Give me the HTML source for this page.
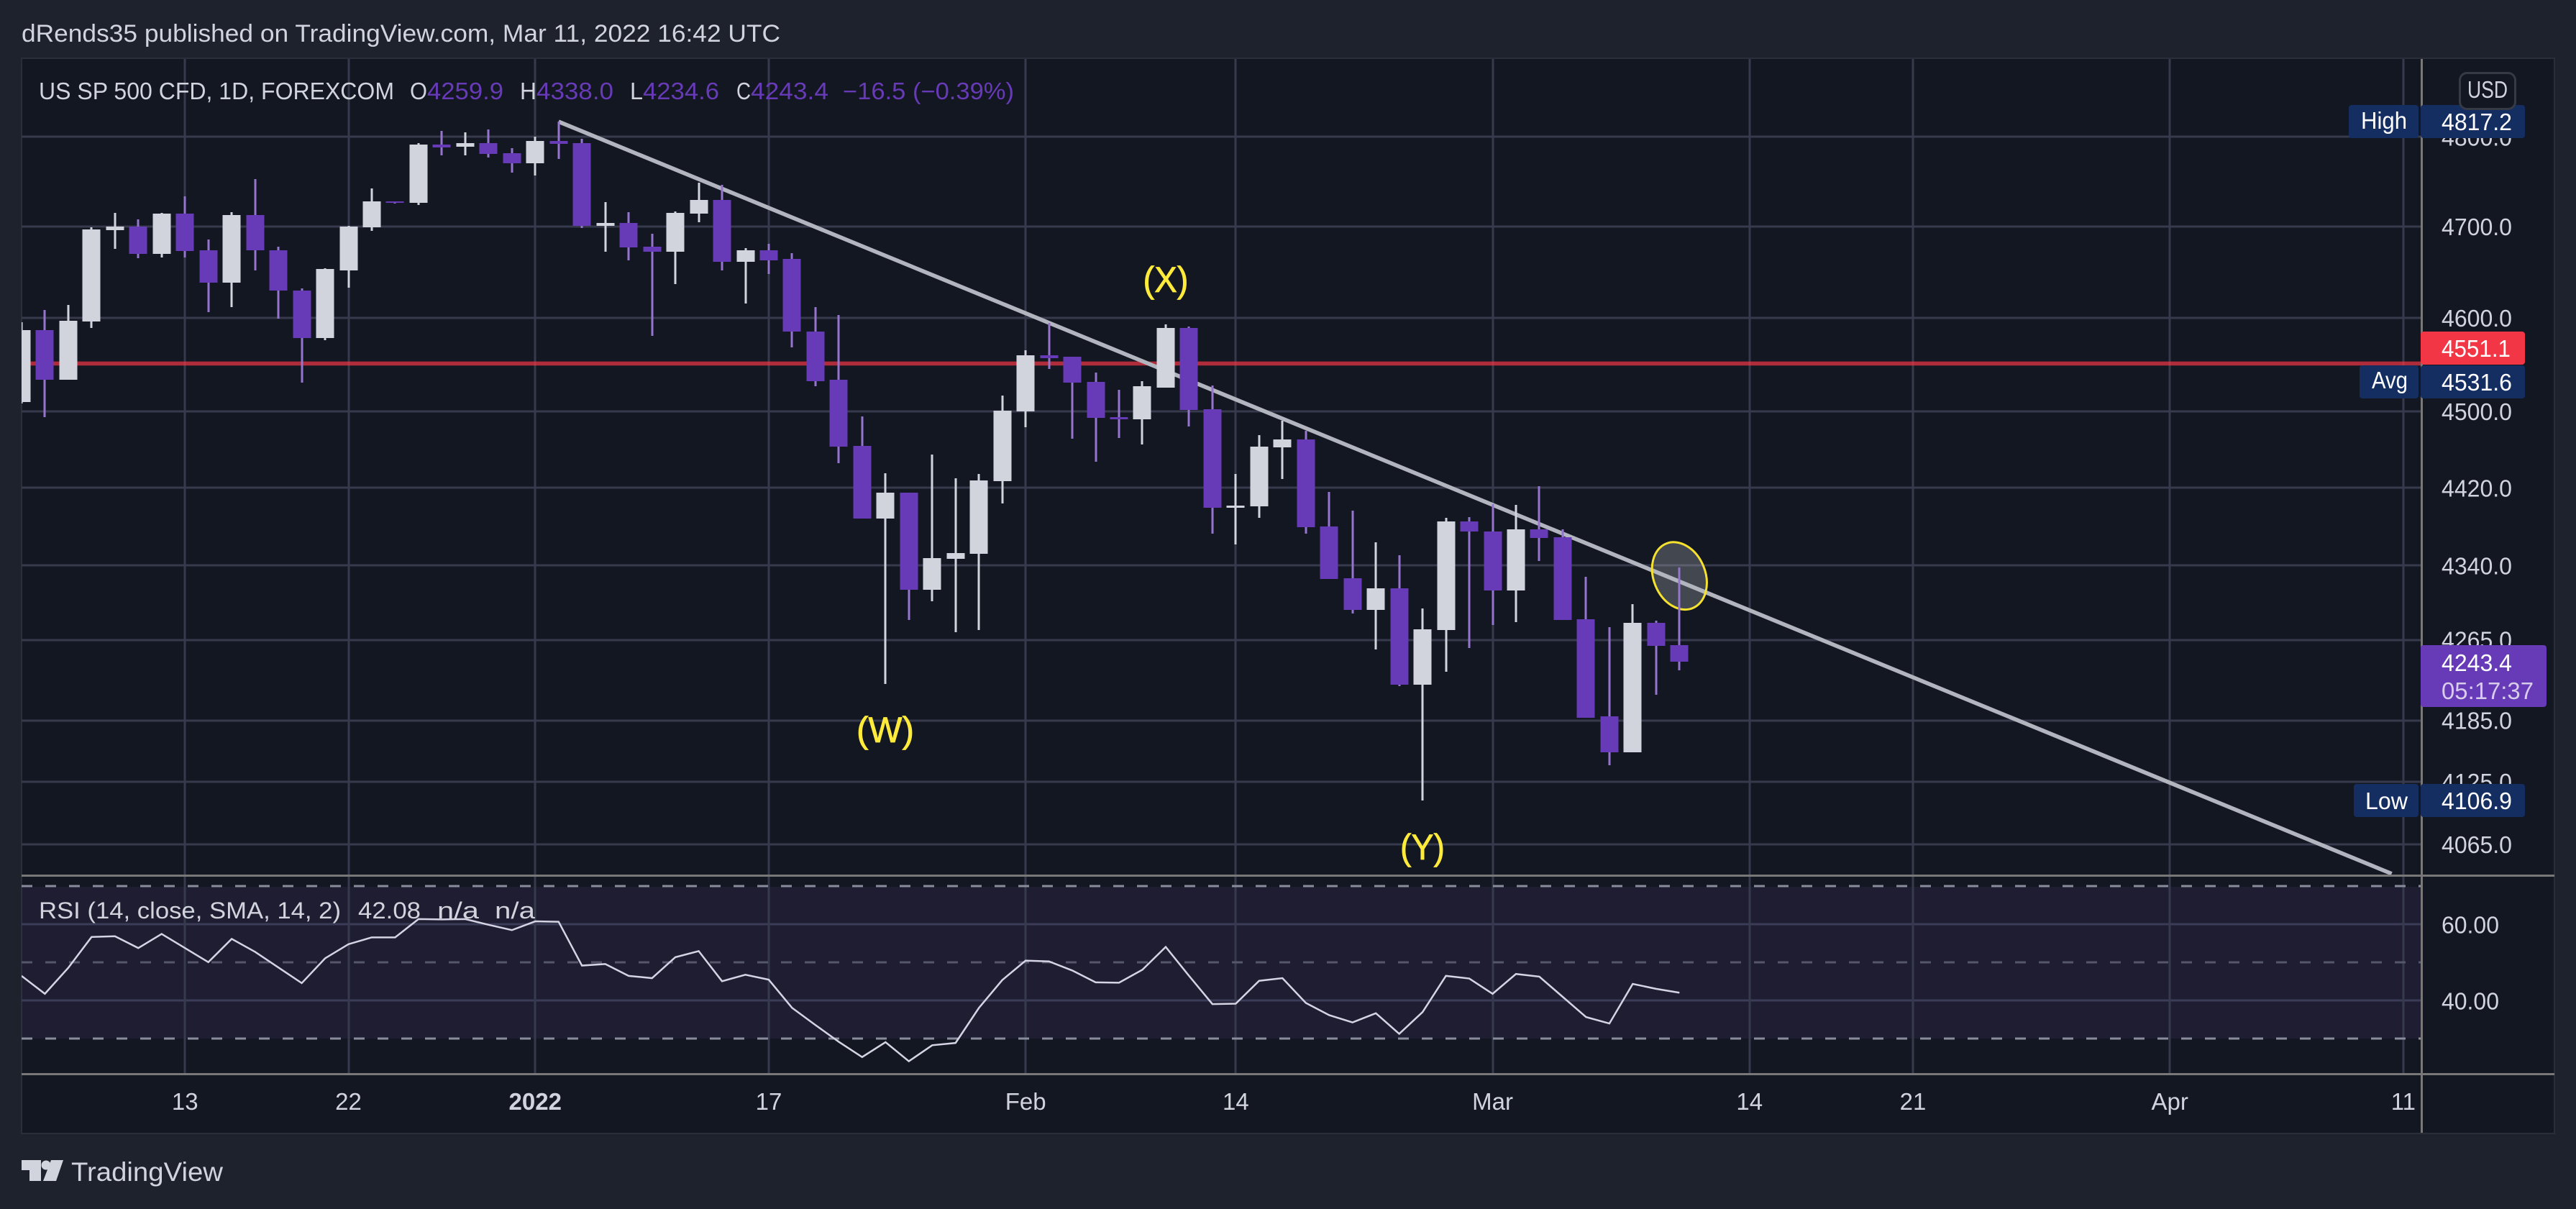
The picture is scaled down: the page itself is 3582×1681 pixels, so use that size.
<!DOCTYPE html>
<html lang="en">
<head>
<meta charset="utf-8">
<title>US SP 500 CFD chart</title>
<style>
html,body{margin:0;padding:0;background:#1e222d;width:3582px;height:1681px;overflow:hidden}
svg{display:block;font-family:"Liberation Sans",sans-serif}
.crisp{shape-rendering:crispEdges}
</style>
</head>
<body>
<svg id="chart" xmlns="http://www.w3.org/2000/svg" width="3582" height="1681" viewBox="0 0 3582 1681">
  <defs>
    <clipPath id="main-clip"><rect x="30" y="81" width="3337" height="1135"/></clipPath>
    <clipPath id="rsi-clip"><rect x="30" y="1219" width="3337" height="273"/></clipPath>
  </defs>
  <rect x="0" y="0" width="3582" height="1681" fill="#1e222d"/>
  <text x="30" y="58" font-size="34" fill="#d1d4dc" textLength="1055" lengthAdjust="spacingAndGlyphs">dRends35 published on TradingView.com, Mar 11, 2022 16:42 UTC</text>
  <rect x="30" y="81" width="3522" height="1495" fill="#131722" stroke="#2a2e39" stroke-width="2"/>
  <rect class="crisp" x="30" y="1233" width="3337" height="211" fill="rgba(126,87,194,0.1)"/>
  <g id="grid" class="crisp"></g>
  <g id="rsi-guides" class="crisp"></g>
  <g id="drawings" clip-path="url(#main-clip)"></g>
  <g id="candles" class="crisp" clip-path="url(#main-clip)"></g>
  <g id="rsi" clip-path="url(#rsi-clip)"></g>

  <text x="1621" y="406" font-size="50" fill="#ffeb3b" stroke="#ffeb3b" stroke-width="0.8" text-anchor="middle" textLength="63" lengthAdjust="spacingAndGlyphs">(X)</text>
  <text x="1231" y="1032" font-size="50" fill="#ffeb3b" stroke="#ffeb3b" stroke-width="0.8" text-anchor="middle" textLength="80" lengthAdjust="spacingAndGlyphs">(W)</text>
  <text x="1978" y="1195" font-size="50" fill="#ffeb3b" stroke="#ffeb3b" stroke-width="0.8" text-anchor="middle" textLength="62" lengthAdjust="spacingAndGlyphs">(Y)</text>

  <rect class="crisp" x="30" y="1216" width="3522" height="3" fill="#787878"/>
  <rect class="crisp" x="30" y="1492" width="3522" height="3" fill="#787878"/>
  <rect class="crisp" x="3366" y="82" width="3" height="1493" fill="#787878"/>

  <g id="y-ticks" font-size="33" fill="#d1d4dc"></g>
  <g id="x-ticks" font-size="33" fill="#d1d4dc" text-anchor="middle"></g>

  <g font-size="33">
    <text x="54" y="138" fill="#d1d4dc" textLength="494" lengthAdjust="spacingAndGlyphs">US SP 500 CFD, 1D, FOREXCOM</text>
    <text x="570" y="138" fill="#d1d4dc" textLength="24" lengthAdjust="spacingAndGlyphs">O</text>
    <text x="594" y="138" fill="#673ab7" textLength="106" lengthAdjust="spacingAndGlyphs">4259.9</text>
    <text x="723" y="138" fill="#d1d4dc" textLength="23" lengthAdjust="spacingAndGlyphs">H</text>
    <text x="746" y="138" fill="#673ab7" textLength="107" lengthAdjust="spacingAndGlyphs">4338.0</text>
    <text x="876" y="138" fill="#d1d4dc" textLength="18" lengthAdjust="spacingAndGlyphs">L</text>
    <text x="894" y="138" fill="#673ab7" textLength="106" lengthAdjust="spacingAndGlyphs">4234.6</text>
    <text x="1024" y="138" fill="#d1d4dc" textLength="20" lengthAdjust="spacingAndGlyphs">C</text>
    <text x="1044" y="138" fill="#673ab7" textLength="108" lengthAdjust="spacingAndGlyphs">4243.4</text>
    <text x="1172" y="138" fill="#673ab7" textLength="238" lengthAdjust="spacingAndGlyphs">−16.5 (−0.39%)</text>
  </g>
  <g font-size="32" fill="#d1d4dc">
    <text x="54" y="1277" textLength="420" lengthAdjust="spacingAndGlyphs">RSI (14, close, SMA, 14, 2)</text>
    <text x="498" y="1277" textLength="87" lengthAdjust="spacingAndGlyphs">42.08</text>
    <text x="608" y="1277" textLength="58" lengthAdjust="spacingAndGlyphs">n/a</text>
    <text x="688" y="1277" textLength="56" lengthAdjust="spacingAndGlyphs">n/a</text>
  </g>

  <g>
    <rect x="3266" y="146" width="97" height="46" rx="4" fill="#142e61"/>
    <rect x="3366" y="146" width="145" height="46" rx="4" fill="#142e61"/>
    <text x="3283" y="179" font-size="33" fill="#fff" textLength="64" lengthAdjust="spacingAndGlyphs">High</text>
    <text x="3395" y="181" font-size="33" fill="#fff" textLength="98" lengthAdjust="spacingAndGlyphs">4817.2</text>
  </g>
  <g>
    <rect x="3366" y="461" width="145" height="46" rx="4" fill="#f23645"/>
    <text x="3395" y="496" font-size="33" fill="#fff" textLength="96" lengthAdjust="spacingAndGlyphs">4551.1</text>
  </g>
  <g>
    <rect x="3281" y="508" width="82" height="46" rx="4" fill="#142e61"/>
    <rect x="3366" y="508" width="145" height="46" rx="4" fill="#142e61"/>
    <text x="3298" y="540" font-size="33" fill="#fff" textLength="50" lengthAdjust="spacingAndGlyphs">Avg</text>
    <text x="3395" y="543" font-size="33" fill="#fff" textLength="98" lengthAdjust="spacingAndGlyphs">4531.6</text>
  </g>
  <g>
    <rect x="3366" y="897" width="175" height="86" rx="4" fill="#673ab7"/>
    <text x="3395" y="933" font-size="33" fill="#fff" textLength="98" lengthAdjust="spacingAndGlyphs">4243.4</text>
    <text x="3395" y="972" font-size="33" fill="#d7cdeb" textLength="128" lengthAdjust="spacingAndGlyphs">05:17:37</text>
  </g>
  <g>
    <rect x="3273" y="1090" width="90" height="46" rx="4" fill="#142e61"/>
    <rect x="3366" y="1090" width="145" height="46" rx="4" fill="#142e61"/>
    <text x="3289" y="1125" font-size="33" fill="#fff" textLength="59" lengthAdjust="spacingAndGlyphs">Low</text>
    <text x="3395" y="1125" font-size="33" fill="#fff" textLength="98" lengthAdjust="spacingAndGlyphs">4106.9</text>
  </g>
  <rect x="3420.5" y="101.5" width="77" height="50" rx="10" fill="#131722" stroke="#363a45" stroke-width="3"/>
  <text x="3431" y="136" font-size="33" fill="#d1d4dc" textLength="56" lengthAdjust="spacingAndGlyphs">USD</text>

  <g fill="#d1d4dc">
    <polygon points="30,1613 57,1613 57,1642 41,1642 41,1627 30,1627"/>
    <circle cx="64" cy="1620" r="6.5"/>
    <polygon points="88,1613 71,1613 60,1642 78,1642"/>
    <text x="99" y="1642" font-size="37" textLength="211" lengthAdjust="spacingAndGlyphs">TradingView</text>
  </g>
</svg>
<script>
const opens = [4510.4,4587,4534,4596.4,4696,4700,4669.5,4714,4673.5,4638,4712.5,4674,4630,4578.7,4652,4699.5,4727.5,4726,4791.6,4789,4793,4782,4770,4795,4793,4701,4704,4677.4,4672,4714,4729,4661,4673.5,4664,4585.6,4533.4,4464,4388.5,4415,4315.5,4346.8,4352,4427,4500,4560.2,4558,4531.8,4494,4492,4525.7,4589.5,4502.6,4399.5,4401,4462.4,4470.8,4380.5,4327,4295,4317,4220,4274.6,4385.6,4375.3,4314.8,4377.5,4368.8,4285.5,4189,4154,4282,4259.9];
const highs = [4595.8,4609,4614,4699.5,4715,4708,4715,4733,4686,4715.5,4753,4677.4,4632,4654,4701,4742,4728,4793,4807,4805,4808,4787.5,4800,4817.2,4798,4727,4715.5,4691.6,4717,4749,4746,4676,4680.6,4671,4612,4603,4495,4435,4415,4454.8,4430,4434.4,4517,4564.9,4595,4558,4541.8,4523.4,4532.6,4593.3,4591,4527.9,4434.4,4475.2,4490.5,4479.8,4415.6,4396.6,4364,4350.5,4296.5,4389,4390,4403,4402.4,4421.5,4377.5,4328.5,4277.6,4300.9,4284,4338];
const lows = [4508.3,4494,4533.4,4589.5,4675,4665,4666,4665.6,4606,4612,4651.5,4599.5,4531,4576.4,4633,4695.5,4725,4723.5,4779.5,4779,4777,4760,4757,4775,4698.5,4672,4663,4581,4637,4705,4651.5,4615.5,4648,4568.7,4526.5,4445.8,4388,4220.7,4284.8,4303.8,4272.4,4274.6,4404,4483.6,4545.6,4471.5,4447.3,4472.3,4465.5,4525.7,4484.3,4373,4361.4,4389,4429,4373,4326.5,4291.8,4255.7,4218.6,4106.9,4233,4257,4279.7,4282.6,4344.6,4284.8,4187.9,4141,4154,4210,4234.6];
const closes = [4587,4534,4597,4697,4700,4669.5,4714,4672.7,4638,4712.5,4673.5,4629.6,4578.7,4653,4700,4727.5,4726,4791,4788,4793,4781,4770,4795,4792,4701,4704,4676.7,4672,4715,4729,4661,4673.5,4663,4585,4532.6,4463,4388.5,4415,4315.5,4347.5,4352.7,4427.6,4501,4560.2,4557,4531,4493.6,4492,4526.5,4589.5,4501.8,4399.5,4401.7,4463,4470.8,4379.7,4326.5,4295,4317,4220,4275.4,4385.6,4374.6,4314.8,4377.5,4368,4284.8,4187.9,4154,4282,4259.3,4243.4];
const rsiValues = [46.5,41.8,48.6,56.7,56.9,53.8,57.5,53.8,50.1,56.2,52.8,48.7,44.6,51.1,54.8,56.6,56.6,61.4,61.3,61.4,59.9,58.5,60.8,60.7,49.2,49.6,46.5,45.9,51.4,53,45.1,46.8,45.5,38.1,33.6,29.2,25.2,29.1,24.1,28.3,28.9,38.1,45.4,50.5,50.3,47.9,44.8,44.7,48.1,54.1,46.5,39.1,39.2,45.2,45.9,39.4,36.2,34.3,36.7,31.3,37,46.5,45.8,41.8,47,46.3,41,35.7,34,44.4,43.1,42.08];
const priceTicks = [4800,4700,4600,4500,4420,4340,4265,4185,4125,4065];
const rsiTicks = [60,40];
const rsiGuides = [70,50,30];
const timeLabels = ["13","22","2022","17","Feb","14","Mar","14","21","Apr","11"];
const timeBars = [7,14,22,32,43,52,63,74,81,92,102];
const lastPrice = 4551.1;
const trendBars = [23,101.5];
const trendPrices = [4817.2,4037];
const ellipseBar = 71;
const ellipsePrice = 4329.6;

const NS = 'http://www.w3.org/2000/svg';
const xScale = i => 29.93 + 32.47 * i;
const yScale = p => 190.3 + 5918 * Math.log(4800 / p);
const rsiScale = v => 1285.3 + (60 - v) * 5.3;

function make(tag, attrs, parent) {
  const el = document.createElementNS(NS, tag);
  for (const k in attrs) el.setAttribute(k, attrs[k]);
  parent.appendChild(el);
  return el;
}

const grid = document.getElementById('grid');
priceTicks.forEach(p => {
  const el = make('rect', {x: 30, y: Math.round(yScale(p)) - 1.5, width: 3336, height: 3, fill: '#373a4c'}, grid);
  
  
});
rsiTicks.forEach(v => {
  const el = make('rect', {x: 30, y: Math.round(rsiScale(v)) - 1.5, width: 3336, height: 3, fill: '#3b3c58'}, grid);
  
  
});
timeBars.forEach(b => {
  const el = make('rect', {x: Math.round(xScale(b)) - 1.5, y: 82, width: 3, height: 1410, fill: '#373a4c'}, grid);
  
  
});

const guides = document.getElementById('rsi-guides');
rsiGuides.forEach(v => {
  const y = Math.round(rsiScale(v));
  const el = make('line', {x1: 30, x2: 3366, y1: y, y2: y, stroke: v === 50 ? '#55566c' : '#898c9c', 'stroke-width': 3, 'stroke-dasharray': '15 18'}, guides);
  
  
});

const drawings = document.getElementById('drawings');
const hline = make('line', {x1: 30, x2: 3366, y1: yScale(lastPrice), y2: yScale(lastPrice), stroke: 'rgba(242,54,69,0.7)', 'stroke-width': 5.7}, drawings);


const trend = make('line', {x1: xScale(trendBars[0]), y1: yScale(trendPrices[0]), x2: xScale(trendBars[1]), y2: yScale(trendPrices[1]), stroke: '#b2b5be', 'stroke-width': 5.6}, drawings);


const ecx = xScale(ellipseBar), ecy = yScale(ellipsePrice);
const ell = make('ellipse', {cx: ecx, cy: ecy, rx: 36, ry: 48.5, transform: 'rotate(-22.4 ' + ecx + ' ' + ecy + ')', fill: 'rgba(178,181,190,0.3)', stroke: '#f5e12f', 'stroke-width': 3}, drawings);



const candles = document.getElementById('candles');
closes.forEach((c, i) => {
  const o = opens[i], up = c > o;
  const cx = Math.round(xScale(i));
  const wickTop = Math.round(yScale(highs[i]));
  const wickBot = Math.round(yScale(lows[i]));
  const bodyTop = Math.round(yScale(Math.max(o, c)));
  const bodyBot = Math.round(yScale(Math.min(o, c)));
  const wick = make('rect', {x: cx - 1.5, y: wickTop, width: 3, height: Math.max(1, wickBot - wickTop), fill: up ? '#d1d4dc' : '#9575cd'}, candles);
  
  
  const body = make('rect', {x: cx - 12.5, y: bodyTop, width: 25, height: Math.max(2, bodyBot - bodyTop), fill: up ? '#d1d4dc' : '#673ab7'}, candles);
  
  
});

const rsiPane = document.getElementById('rsi');
const rsiPath = make('polyline', {points: rsiValues.map((v, i) => xScale(i) + ',' + rsiScale(v)).join(' '), fill: 'none', stroke: '#d4d4e4', 'stroke-width': 2.5, 'stroke-linejoin': 'miter'}, rsiPane);



const yTicks = document.getElementById('y-ticks');
function addYTick(label, y) {
  const t = make('text', {x: 3395, y: y + 12, textLength: label.length === 5 ? 80 : 98, lengthAdjust: 'spacingAndGlyphs'}, yTicks);
  t.textContent = label;
  
  
}
priceTicks.forEach(p => addYTick(p.toFixed(1), yScale(p)));
rsiTicks.forEach(v => addYTick(v.toFixed(2), rsiScale(v)));

const xTicks = document.getElementById('x-ticks');
timeLabels.forEach((label, i) => {
  const t = make('text', {x: xScale(timeBars[i]), y: 1543}, xTicks);
  if (label === '2022') t.setAttribute('font-weight', 'bold');
  t.textContent = label;
  
  
});
</script>
</body>
</html>
